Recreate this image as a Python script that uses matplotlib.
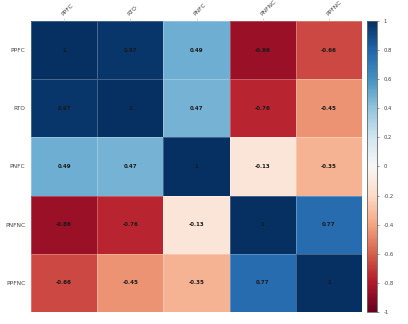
import matplotlib
matplotlib.use("Agg")
import matplotlib.pyplot as plt
import numpy as np

labels = ["PPFC", "RTO", "PNFC", "PNFNC", "PPFNC"]
row_ppfc = [1, 0.97, 0.49, -0.86, -0.66]
row_rto = [0.97, 1, 0.47, -0.76, -0.45]
row_pnfc = [0.49, 0.47, 1, -0.13, -0.35]
row_pnfnc = [-0.86, -0.76, -0.13, 1, 0.77]
row_ppfnc = [-0.66, -0.45, -0.35, 0.77, 1]
cbar_ticks = [-1, -0.8, -0.6, -0.4, -0.2, 0, 0.2, 0.4, 0.6, 0.8, 1]

corr = np.array([row_ppfc, row_rto, row_pnfc, row_pnfnc, row_ppfnc])

fig = plt.figure(figsize=(4.08, 3.24), dpi=100)
ax = fig.add_axes([31/408, 1-312/324, 331/408, 291/324])
mesh = ax.pcolormesh(corr, cmap="RdBu", vmin=-1, vmax=1,
                     edgecolor=(1, 1, 1, 0.25), linewidth=0.4)
ax.set_xlim(0, 5)
ax.set_ylim(5, 0)
for s in ax.spines.values():
    s.set_visible(False)

n = len(labels)
for i in range(n):
    for j in range(n):
        v = corr[i, j]
        txt = "1" if v == 1 else f"{v:.2f}"
        ax.text(j + 0.5, i + 0.5, txt, ha="center", va="center",
                fontsize=4, fontweight="bold", color="#1a1a1a")

ax.set_yticks(np.arange(n) + 0.5)
ax.set_yticklabels(labels, fontsize=4.2, color="#444444")
ax.tick_params(axis="y", length=0, pad=4)
ax.xaxis.tick_top()
ax.set_xticks(np.arange(n) + 0.5)
ax.set_xticklabels(labels, fontsize=4.2, color="#444444", rotation=45,
                   ha="left", va="bottom", rotation_mode="anchor")
ax.tick_params(axis="x", length=2, width=0.4, color="#bbbbbb", pad=1)

cax = fig.add_axes([367/408, 1-312/324, 10/408, 291/324])
cb = fig.colorbar(mesh, cax=cax, ticks=cbar_ticks)
cb.outline.set_linewidth(0.6)
cb.outline.set_edgecolor("#666666")
cb.ax.tick_params(labelsize=3.8, length=1.5, width=0.4, colors="#444444", pad=3)
cb.ax.set_yticklabels([f"{t:g}" for t in cbar_ticks])

fig.savefig("out.png", dpi=100)
